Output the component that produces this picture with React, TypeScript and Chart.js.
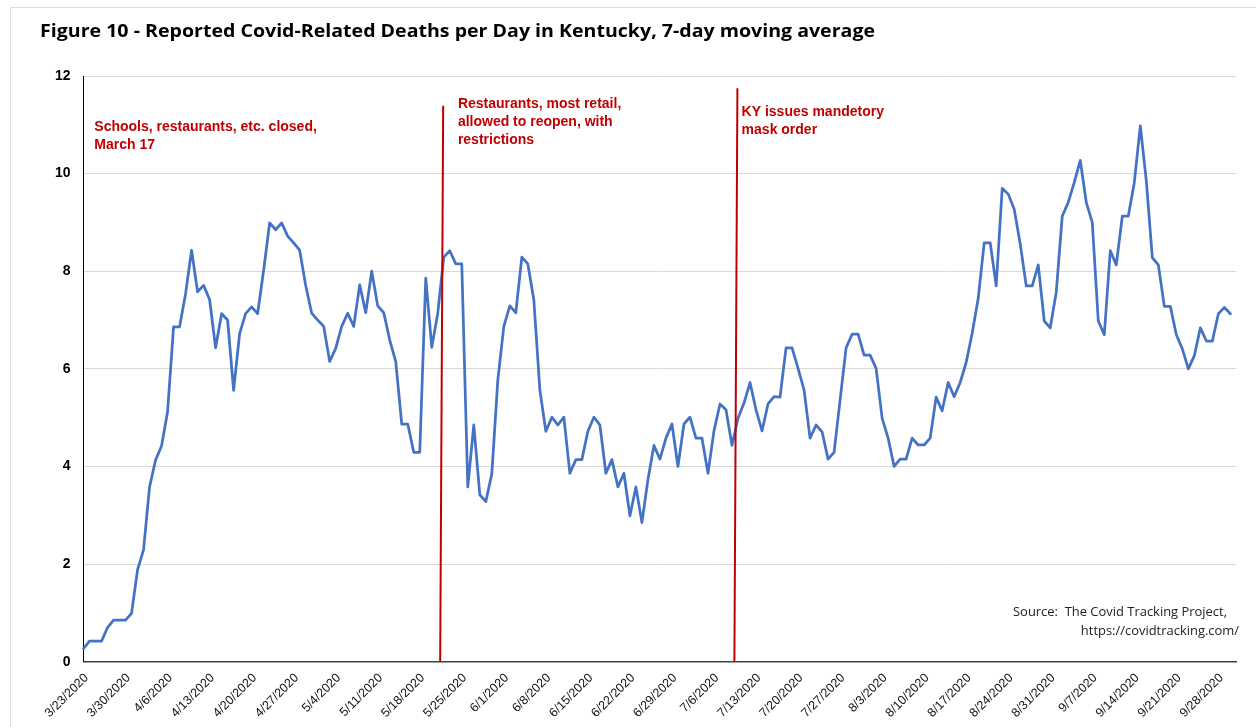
import React, { useEffect, useRef } from 'react';
import { Chart, registerables } from 'chart.js';

Chart.register(...registerables);

// ---- data ----
const startDate = { year: 2020, month: 3, day: 23 };
const dayCount = 193; // 3/23/2020 .. 10/1/2020 (axis end)

const categories: string[] = (() => {
  const out: string[] = [];
  const d = new Date(Date.UTC(startDate.year, startDate.month - 1, startDate.day));
  for (let i = 0; i < dayCount; i++) {
    out.push(`${d.getUTCMonth() + 1}/${d.getUTCDate()}/${d.getUTCFullYear()}`);
    d.setUTCDate(d.getUTCDate() + 1);
  }
  return out;
})();

const deaths: number[] = [
  0.27, 0.42, 0.42, 0.42, 0.70, 0.85, 0.85, 0.85, 0.99, 1.88,
  2.29, 3.58, 4.13, 4.42, 5.12, 6.86, 6.86, 7.54, 8.43, 7.58,
  7.71, 7.42, 6.43, 7.13, 7.00, 5.56, 6.72, 7.13, 7.27, 7.13,
  8.02, 8.99, 8.85, 8.99, 8.72, 8.58, 8.43, 7.71, 7.14, 7.00,
  6.87, 6.15, 6.42, 6.87, 7.14, 6.87, 7.72, 7.15, 8.00, 7.29,
  7.15, 6.59, 6.15, 4.87, 4.87, 4.29, 4.29, 7.86, 6.44, 7.14,
  8.29, 8.42, 8.15, 8.15, 3.58, 4.85, 3.42, 3.28, 3.85, 5.77,
  6.87, 7.29, 7.15, 8.29, 8.15, 7.41, 5.57, 4.72, 5.01, 4.85,
  5.01, 3.86, 4.14, 4.14, 4.72, 5.01, 4.85, 3.86, 4.14, 3.58,
  3.86, 2.99, 3.58, 2.85, 3.73, 4.43, 4.15, 4.58, 4.87, 4.00,
  4.87, 5.01, 4.58, 4.58, 3.86, 4.73, 5.28, 5.16, 4.43, 4.99,
  5.30, 5.72, 5.16, 4.73, 5.28, 5.43, 5.42, 6.43, 6.43, 6.01,
  5.57, 4.58, 4.85, 4.71, 4.15, 4.29, 5.36, 6.43, 6.71, 6.71,
  6.28, 6.28, 6.01, 4.99, 4.58, 4.00, 4.15, 4.15, 4.58, 4.44,
  4.44, 4.58, 5.42, 5.14, 5.72, 5.43, 5.72, 6.13, 6.73, 7.44,
  8.58, 8.58, 7.70, 9.70, 9.58, 9.27, 8.56, 7.70, 7.70, 8.13,
  6.98, 6.84, 7.57, 9.13, 9.41, 9.82, 10.27, 9.41, 9.00, 6.98,
  6.70, 8.42, 8.13, 9.13, 9.13, 9.82, 10.98, 9.85, 8.28, 8.13,
  7.28, 7.28, 6.70, 6.41, 6.00, 6.27, 6.84, 6.57, 6.57, 7.13,
  7.26, 7.13,
];

const yTicks = [0, 2, 4, 6, 8, 10, 12];
const tickEvery = 7;

const titleText = 'Figure 10 - Reported Covid-Related Deaths per Day in Kentucky, 7-day moving average';
const sourceLines = ['Source:  The Covid Tracking Project,', 'https://covidtracking.com/'];

// events: reference lines and their notes
const eventLines = [
  { bottomIdx: 59.4, topIdx: 59.9, topValue: 11.39 },
  { bottomIdx: 108.4, topIdx: 108.9, topValue: 11.75 },
];
const eventNotes = [
  { idx: 1.8, value: 10.96, lines: ['Schools, restaurants, etc. closed,', 'March 17'] },
  { idx: 62.35, value: 11.43, lines: ['Restaurants, most retail,', 'allowed to reopen, with', 'restrictions'] },
  { idx: 109.6, value: 11.26, lines: ['KY issues mandetory', 'mask order'] },
];

const RED = '#C00000';

const decorPlugin = {
  id: 'decor',
  beforeDraw(chart: any) {
    const { ctx } = chart;
    ctx.save();
    ctx.fillStyle = '#ffffff';
    ctx.fillRect(0, 0, chart.width, chart.height);
    ctx.strokeStyle = '#dcdcdc';
    ctx.lineWidth = 1;
    ctx.beginPath();
    ctx.moveTo(10.5, chart.height);
    ctx.lineTo(10.5, 7.5);
    ctx.lineTo(chart.width, 7.5);
    ctx.stroke();
    ctx.restore();
  },
  afterDatasetsDraw(chart: any) {
    const { ctx } = chart;
    const x = chart.scales.x;
    const y = chart.scales.y;
    ctx.save();
    ctx.strokeStyle = RED;
    ctx.lineWidth = 2;
    for (const ev of eventLines) {
      ctx.beginPath();
      ctx.moveTo(x.getPixelForValue(ev.bottomIdx), y.getPixelForValue(0));
      ctx.lineTo(x.getPixelForValue(ev.topIdx), y.getPixelForValue(ev.topValue));
      ctx.stroke();
    }
    ctx.fillStyle = RED;
    ctx.font = "bold 14px 'Liberation Sans', Arial, sans-serif";
    ctx.textAlign = 'left';
    ctx.textBaseline = 'middle';
    for (const n of eventNotes) {
      const px = x.getPixelForValue(n.idx);
      const py = y.getPixelForValue(n.value);
      n.lines.forEach((t, i) => ctx.fillText(t, px, py + i * 18));
    }
    ctx.restore();
  },
  afterDraw(chart: any) {
    const { ctx } = chart;
    ctx.save();
    ctx.textBaseline = 'middle';
    // title
    ctx.fillStyle = '#000';
    ctx.font = "bold 18px 'Open Sans', sans-serif";
    const tw = ctx.measureText(titleText).width;
    const ts = 835 / tw;
    ctx.translate(40, 32);
    ctx.scale(ts, 1);
    ctx.textAlign = 'left';
    ctx.fillText(titleText, 0, 0);
    ctx.restore();

    // source
    ctx.save();
    ctx.textBaseline = 'middle';
    ctx.fillStyle = '#222';
    ctx.font = "13.5px 'Open Sans', sans-serif";
    const sw = ctx.measureText(sourceLines[0]).width;
    const ss = 214 / sw;
    const rights = [1227, 1239];
    const ys = [612, 631];
    sourceLines.forEach((t, i) => {
      ctx.save();
      ctx.translate(rights[i], ys[i]);
      ctx.scale(ss, 1);
      ctx.textAlign = 'right';
      ctx.fillText(t, 0, 0);
      ctx.restore();
    });
    ctx.restore();
  },
};

export default function App() {
  const ref = useRef<HTMLCanvasElement | null>(null);

  useEffect(() => {
    if (!ref.current) return;
    const chart = new Chart(ref.current, {
      type: 'line',
      data: {
        labels: categories,
        datasets: [
          {
            label: 'Deaths per day (7-day avg)',
            data: deaths,
            borderColor: '#4472C4',
            borderWidth: 2.75,
            pointRadius: 0,
            tension: 0,
            fill: false,
            borderJoinStyle: 'round',
            borderCapStyle: 'round',
          },
        ],
      },
      options: {
        responsive: false,
        animation: false,
        devicePixelRatio: 1,
        layout: { padding: { top: 76, right: 17.3, bottom: 0, left: 0 } },
        plugins: {
          legend: { display: false },
          tooltip: { enabled: false },
          title: { display: false },
        },
        scales: {
          x: {
            type: 'category',
            offset: false,
            grid: { display: false, drawTicks: false },
            border: { display: true, color: '#404040', width: 1.5 },
            afterFit: (scale: any) => {
              scale.height = 65.3;
            },
            ticks: {
              autoSkip: false,
              maxRotation: 45,
              minRotation: 45,
              padding: 9,
              labelOffset: 3,
              color: '#111',
              font: { family: "'Liberation Sans', Arial, sans-serif", size: 12.5 },
              callback: (_v: any, i: number) => (i % tickEvery === 0 ? categories[i] : ''),
            },
          },
          y: {
            min: yTicks[0],
            max: yTicks[yTicks.length - 1],
            grid: { color: '#d9d9d9', lineWidth: 1, drawTicks: false },
            border: { display: true, color: '#000', width: 1 },
            afterFit: (scale: any) => {
              scale.width = 83.5;
            },
            afterBuildTicks: (scale: any) => {
              scale.ticks = yTicks.map((v) => ({ value: v }));
            },
            ticks: {
              padding: 13,
              color: '#000',
              font: { family: "'Liberation Sans', Arial, sans-serif", size: 14, weight: 'bold' },
            },
          },
        },
      },
      plugins: [decorPlugin],
    });
    return () => chart.destroy();
  }, []);

  return (
    <div style={{ position: 'fixed', left: 0, top: 0, width: 1256, height: 727, background: '#fff' }}>
      <canvas ref={ref} width={1256} height={727} style={{ display: 'block' }} />
    </div>
  );
}
